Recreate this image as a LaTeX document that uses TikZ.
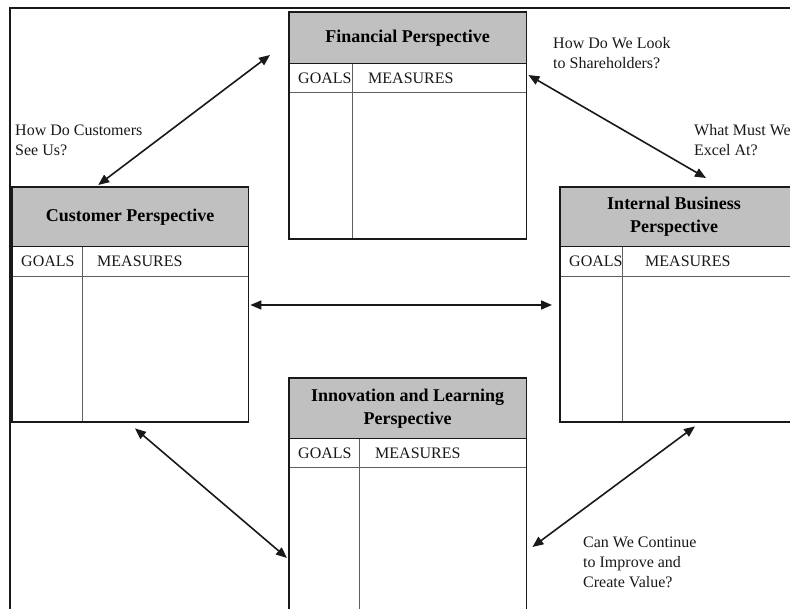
\documentclass[tikz,border=0pt]{standalone}
\usepackage{fontspec}
\setmainfont{Liberation Serif}
\usetikzlibrary{arrows.meta}
\definecolor{hdr}{RGB}{192,192,192}
\definecolor{ink}{RGB}{25,25,25}
\definecolor{rulec}{RGB}{95,95,95}
\begin{document}
\begin{tikzpicture}[x=1pt,y=-1pt,
  outer/.style={fill=white, inner sep=0pt, anchor=north west},
  head/.style={fill=hdr, inner sep=0pt, anchor=north west},
  border/.style={draw=ink, line width=1.8pt},
  hline/.style={draw=ink, line width=1.5pt},
  inner/.style={draw=rulec, line width=1pt},
  ttl/.style={font=\fontsize{18}{23}\selectfont\bfseries, align=center, text=black, inner sep=0pt},
  cell/.style={font=\fontsize{16}{20}\selectfont, text=ink, anchor=west, inner sep=0pt},
  lbl/.style={font=\fontsize{16}{20}\selectfont, text=ink, align=left, anchor=west, inner sep=0pt},
  arr/.style={line width=1.6pt, draw=ink, {Triangle[length=11pt,width=9pt]}-{Triangle[length=11pt,width=9pt]}},
  framel/.style={line width=1.5pt, draw=ink}]
\useasboundingbox (0,0) rectangle (790,609);
\clip (0,0) rectangle (790,609);
\fill[white] (0,0) rectangle (790,609);

% frame
\coordinate (fbl) at (10,612);
\coordinate (ftl) at (10,8);
\coordinate (ftr) at (792,8);
\draw[framel] (fbl) -- (ftl) -- (ftr);

% Financial
\node[outer, minimum width=237pt, minimum height=227pt] (fin) at (289,12) {};
\node[head, minimum width=237pt, minimum height=51pt] (finh) at (fin.north west) {};
\draw[inner] ([yshift=-29pt]finh.south west) -- ([yshift=-29pt]finh.south east);
\draw[inner] ([xshift=63pt]finh.south west) -- ([xshift=63pt]fin.south west);
\draw[hline] (finh.south west) -- (finh.south east);
\draw[border] (fin.north west) rectangle (fin.south east);
\node[ttl] (fint) at (finh) {Financial Perspective};
\node[cell] (fing) at ([xshift=9pt,yshift=-14.5pt]finh.south west) {GOALS};
\node[cell] (finm) at ([xshift=79pt,yshift=-14.5pt]finh.south west) {MEASURES};

% Customer
\node[outer, minimum width=236pt, minimum height=235pt] (cus) at (12,187) {};
\node[head, minimum width=236pt, minimum height=59pt] (cush) at (cus.north west) {};
\draw[inner] ([yshift=-30pt]cush.south west) -- ([yshift=-30pt]cush.south east);
\draw[inner] ([xshift=70pt]cush.south west) -- ([xshift=70pt]cus.south west);
\draw[hline] (cush.south west) -- (cush.south east);
\draw[border] (cus.north west) rectangle (cus.south east);
\node[ttl] (cust) at (cush) {Customer Perspective};
\node[cell] (cusg) at ([xshift=9pt,yshift=-15pt]cush.south west) {GOALS};
\node[cell] (cusm) at ([xshift=85pt,yshift=-15pt]cush.south west) {MEASURES};

% Internal Business
\node[outer, minimum width=240pt, minimum height=235pt] (int) at (560,187) {};
\node[head, minimum width=240pt, minimum height=59pt] (inth) at (int.north west) {};
\draw[inner] ([yshift=-30pt]inth.south west) -- ([yshift=-30pt]inth.south east);
\draw[inner] ([xshift=62pt]inth.south west) -- ([xshift=62pt]int.south west);
\draw[hline] (inth.south west) -- (inth.south east);
\draw[border] (int.north west) rectangle (int.south east);
\node[ttl] (intt) at ([xshift=114pt]inth.west) {Internal Business\\Perspective};
\node[cell] (intg) at ([xshift=9pt,yshift=-15pt]inth.south west) {GOALS};
\node[cell] (intm) at ([xshift=85pt,yshift=-15pt]inth.south west) {MEASURES};

% Innovation and Learning
\node[outer, minimum width=237pt, minimum height=250pt] (inn) at (289,378) {};
\node[head, minimum width=237pt, minimum height=60pt] (innh) at (inn.north west) {};
\draw[inner] ([yshift=-29pt]innh.south west) -- ([yshift=-29pt]innh.south east);
\draw[inner] ([xshift=70pt]innh.south west) -- ([xshift=70pt]inn.south west);
\draw[hline] (innh.south west) -- (innh.south east);
\draw[border] (inn.north west) rectangle (inn.south east);
\node[ttl] (innt) at (innh) {Innovation and Learning\\Perspective};
\node[cell] (inng) at ([xshift=9pt,yshift=-14.5pt]innh.south west) {GOALS};
\node[cell] (innm) at ([xshift=86pt,yshift=-14.5pt]innh.south west) {MEASURES};

% question labels
\node[lbl] (q1) at (15,140) {How Do Customers\\See Us?};
\node[lbl] (q2) at (553,53) {How Do We Look\\to Shareholders?};
\node[lbl] (q3) at (694,140) {What Must We\\Excel At?};
\node[lbl] (q4) at (583,562) {Can We Continue\\to Improve and\\Create Value?};

% arrow end points (yshift: positive = up)
\coordinate (a1c) at ([xshift=-32pt,yshift=2pt]cus.north);
\coordinate (a1f) at ([xshift=-19pt,yshift=-43pt]fin.north west);
\coordinate (a2f) at ([xshift=2pt,yshift=-63pt]fin.north east);
\coordinate (a2i) at ([xshift=146pt,yshift=9pt]int.north west);
\coordinate (a3c) at ([xshift=2pt,yshift=-118pt]cus.north east);
\coordinate (a3i) at ([xshift=-8pt,yshift=-118pt]int.north west);
\coordinate (a4c) at ([xshift=123pt,yshift=-6pt]cus.south west);
\coordinate (a4n) at ([xshift=-2pt,yshift=-180pt]inn.north west);
\coordinate (a5i) at ([xshift=135pt,yshift=-4pt]int.south west);
\coordinate (a5n) at ([xshift=6pt,yshift=-169pt]inn.north east);

\draw[arr] (a1c) -- (a1f);
\draw[arr] (a2f) -- (a2i);
\draw[arr] (a3c) -- (a3i);
\draw[arr] (a4c) -- (a4n);
\draw[arr] (a5i) -- (a5n);
\end{tikzpicture}
\end{document}
